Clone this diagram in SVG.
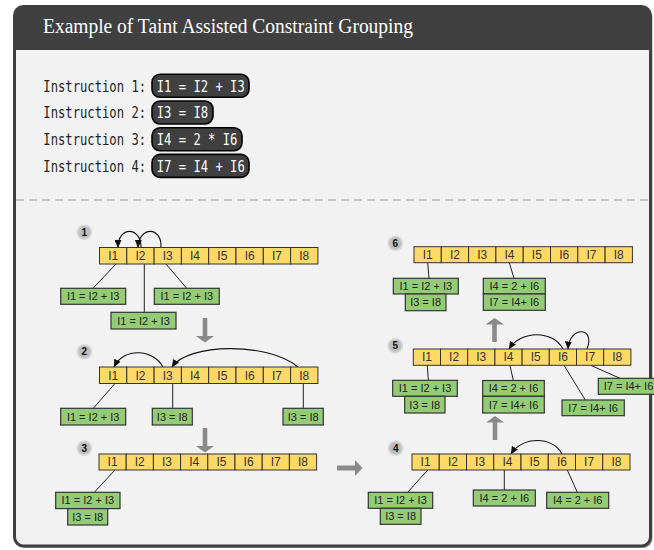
<svg xmlns="http://www.w3.org/2000/svg" width="654" height="550" viewBox="0 0 654 550">
<defs>
<marker id="ah" markerUnits="userSpaceOnUse" markerWidth="8" markerHeight="7" refX="7.5" refY="3.5" orient="auto"><path d="M0,0 L8,3.5 L0,7 z" fill="#111"/></marker>
<style>
.cell{fill:#ffd966;stroke:#333;stroke-width:1}
.ct{font-family:"Liberation Sans",Arial,sans-serif;font-size:12px;fill:#333;text-anchor:middle}
.g{fill:#93cc74;stroke:#333;stroke-width:1.2}
.gt{font-family:"Liberation Sans",Arial,sans-serif;font-size:11px;fill:#222;text-anchor:middle}
.ln{stroke:#222;stroke-width:1;fill:none}
.arc{stroke:#111;stroke-width:1.1;fill:none;marker-end:url(#ah)}
.mono{font-family:"DejaVu Sans Mono","Liberation Mono",monospace;font-size:15px}
.pill{fill:#404040;stroke:#000;stroke-width:1.6}
.bo{fill:#d6d6d6}
.bi{fill:#bdbdbd}
.bn{font-family:"Liberation Sans",Arial,sans-serif;font-size:10px;font-weight:bold;fill:#111;text-anchor:middle}
.big{fill:#8a8a8a}
</style>
</defs>
<g id="frame">
<rect x="16" y="8" width="636.5" height="540" rx="9" fill="#a0a0a0"/>
<rect x="14.5" y="6.5" width="636" height="539.5" rx="9" fill="#f2f2f2" stroke="#404040" stroke-width="3"/>
<path d="M14.5,50 V15.5 Q14.5,6.5 23.5,6.5 H641.5 Q650.5,6.5 650.5,15.5 V50 Z" fill="#404040"/>
<text x="43" y="33" font-family="Liberation Serif,Times New Roman,serif" font-size="20" fill="#fff" textLength="370" lengthAdjust="spacingAndGlyphs">Example of Taint Assisted Constraint Grouping</text>
<line x1="16" y1="200" x2="649" y2="200" stroke="#9a9a9a" stroke-width="1.2" stroke-dasharray="8,5"/>
</g>
<g id="instructions">
<text class="mono" fill="#222" transform="translate(43.3,91.5) scale(0.814,1)">Instruction 1:</text>
<text class="mono" fill="#222" transform="translate(43.3,118.2) scale(0.814,1)">Instruction 2:</text>
<text class="mono" fill="#222" transform="translate(43.3,144.9) scale(0.814,1)">Instruction 3:</text>
<text class="mono" fill="#222" transform="translate(43.3,171.6) scale(0.814,1)">Instruction 4:</text>
<rect class="pill" x="152" y="74.3" width="97" height="23" rx="8"/>
<text class="mono" fill="#fff" transform="translate(156.7,91.5) scale(0.814,1)">I1 = I2 + I3</text>
<rect class="pill" x="152" y="101" width="61" height="23" rx="8"/>
<text class="mono" fill="#fff" transform="translate(156.7,118.2) scale(0.814,1)">I3 = I8</text>
<rect class="pill" x="152" y="127.7" width="90" height="23" rx="8"/>
<text class="mono" fill="#fff" transform="translate(156.7,144.9) scale(0.814,1)">I4 = 2 * I6</text>
<rect class="pill" x="152" y="154.4" width="97" height="23" rx="8"/>
<text class="mono" fill="#fff" transform="translate(156.7,171.6) scale(0.814,1)">I7 = I4 + I6</text>
</g>
<g id="big-arrows">
<path class="big" d="M202.7,318 H207.3 V336 H214 L205,342.5 L196,336 H202.7 Z"/>
<path class="big" d="M202.7,428 H207.3 V446 H214 L205,452.5 L196,446 H202.7 Z"/>
<path class="big" d="M337,465.5 V470.5 H355 V476 L362.5,468 L355,460 V465.5 Z"/>
<path class="big" d="M492.7,440 H497.3 V422.5 H504 L495,416 L486,422.5 H492.7 Z"/>
<path class="big" d="M492.2,342 H496.8 V324.5 H504 L494.5,318 L485.5,324.5 H492.2 Z"/>
</g>
<g id="badges">
<circle class="bo" cx="84.3" cy="232.3" r="7.8"/><circle class="bi" cx="84.3" cy="232.3" r="6"/><text class="bn" x="84.3" y="235.8">1</text>
<circle class="bo" cx="84.3" cy="351.7" r="7.8"/><circle class="bi" cx="84.3" cy="351.7" r="6"/><text class="bn" x="84.3" y="355.2">2</text>
<circle class="bo" cx="84.3" cy="448.3" r="7.8"/><circle class="bi" cx="84.3" cy="448.3" r="6"/><text class="bn" x="84.3" y="451.8">3</text>
<circle class="bo" cx="395.7" cy="448.3" r="7.8"/><circle class="bi" cx="395.7" cy="448.3" r="6"/><text class="bn" x="395.7" y="451.8">4</text>
<circle class="bo" cx="395.3" cy="345.7" r="7.8"/><circle class="bi" cx="395.3" cy="345.7" r="6"/><text class="bn" x="395.3" y="349.2">5</text>
<circle class="bo" cx="395.3" cy="243.3" r="7.8"/><circle class="bi" cx="395.3" cy="243.3" r="6"/><text class="bn" x="395.3" y="246.8">6</text>
</g>
<g id="connectors">
<path class="arc" d="M141,247.5 C141,226 118,226 118,247.5"/>
<path class="arc" d="M161,247.5 C162,226 139,226 138,247.5"/>
<line class="ln" x1="116" y1="264" x2="93" y2="288.3"/>
<line class="ln" x1="144.3" y1="264" x2="144.3" y2="312.3"/>
<line class="ln" x1="166" y1="264" x2="186.7" y2="288.3"/>
<path class="arc" d="M163,367 C153,349 124,347 114,367"/>
<path class="arc" d="M298,367 C268,342 188,343 172,367"/>
<line class="ln" x1="115" y1="383.5" x2="93.3" y2="408.3"/>
<line class="ln" x1="172.7" y1="383.5" x2="172.7" y2="408.3"/>
<line class="ln" x1="303.3" y1="383.5" x2="303.3" y2="408.3"/>
<line class="ln" x1="115" y1="470" x2="94.3" y2="492.3"/>
<path class="arc" d="M562,454 C553,436 522,436 511,454"/>
<line class="ln" x1="427.7" y1="470" x2="407.7" y2="492.3"/>
<line class="ln" x1="504.3" y1="470" x2="504.3" y2="490"/>
<line class="ln" x1="567.3" y1="470" x2="577.3" y2="492.3"/>
<path class="arc" d="M563,349 C553,330 521,330 509,349"/>
<path class="arc" d="M587,349 C596,326 569,326 568,349"/>
<line class="ln" x1="427.3" y1="365.3" x2="428.3" y2="380.5"/>
<line class="ln" x1="510" y1="365.3" x2="513.3" y2="380.5"/>
<line class="ln" x1="564" y1="365.3" x2="585.3" y2="400"/>
<line class="ln" x1="590.7" y1="365.3" x2="620" y2="378.3"/>
<line class="ln" x1="427.7" y1="262.7" x2="429" y2="278.3"/>
<line class="ln" x1="509.3" y1="262.7" x2="514" y2="278.3"/>
</g>
<g id="step1">
<rect class="cell" x="99.5" y="247.5" width="27.3" height="16.5"/><rect class="cell" x="126.8" y="247.5" width="27.3" height="16.5"/><rect class="cell" x="154.1" y="247.5" width="27.3" height="16.5"/><rect class="cell" x="181.4" y="247.5" width="27.3" height="16.5"/><rect class="cell" x="208.7" y="247.5" width="27.3" height="16.5"/><rect class="cell" x="236" y="247.5" width="27.3" height="16.5"/><rect class="cell" x="263.3" y="247.5" width="27.3" height="16.5"/><rect class="cell" x="290.6" y="247.5" width="27.3" height="16.5"/>
<text class="ct" y="260"><tspan x="113.15">I1</tspan><tspan x="140.45">I2</tspan><tspan x="167.75">I3</tspan><tspan x="195.05">I4</tspan><tspan x="222.35">I5</tspan><tspan x="249.65">I6</tspan><tspan x="276.95">I7</tspan><tspan x="304.25">I8</tspan></text>
<rect class="g" x="60.7" y="288.3" width="65" height="16"/><text class="gt" x="93.2" y="300.2">I1 = I2 + I3</text>
<rect class="g" x="111" y="312.3" width="65" height="16.7"/><text class="gt" x="143.5" y="324.5">I1 = I2 + I3</text>
<rect class="g" x="154.3" y="288.3" width="65" height="16"/><text class="gt" x="186.8" y="300.2">I1 = I2 + I3</text>
</g>
<g id="step2">
<rect class="cell" x="99.5" y="367" width="27.3" height="16.5"/><rect class="cell" x="126.8" y="367" width="27.3" height="16.5"/><rect class="cell" x="154.1" y="367" width="27.3" height="16.5"/><rect class="cell" x="181.4" y="367" width="27.3" height="16.5"/><rect class="cell" x="208.7" y="367" width="27.3" height="16.5"/><rect class="cell" x="236" y="367" width="27.3" height="16.5"/><rect class="cell" x="263.3" y="367" width="27.3" height="16.5"/><rect class="cell" x="290.6" y="367" width="27.3" height="16.5"/>
<text class="ct" y="379.5"><tspan x="113.15">I1</tspan><tspan x="140.45">I2</tspan><tspan x="167.75">I3</tspan><tspan x="195.05">I4</tspan><tspan x="222.35">I5</tspan><tspan x="249.65">I6</tspan><tspan x="276.95">I7</tspan><tspan x="304.25">I8</tspan></text>
<rect class="g" x="60.7" y="408.3" width="65" height="16.7"/><text class="gt" x="93.2" y="420.5">I1 = I2 + I3</text>
<rect class="g" x="152.3" y="408.3" width="40" height="16.7"/><text class="gt" x="172.3" y="420.5">I3 = I8</text>
<rect class="g" x="283" y="408.3" width="40.3" height="16.7"/><text class="gt" x="303.2" y="420.5">I3 = I8</text>
</g>
<g id="step3">
<rect class="cell" x="99" y="454" width="27.2" height="16"/><rect class="cell" x="126.2" y="454" width="27.2" height="16"/><rect class="cell" x="153.4" y="454" width="27.2" height="16"/><rect class="cell" x="180.6" y="454" width="27.2" height="16"/><rect class="cell" x="207.8" y="454" width="27.2" height="16"/><rect class="cell" x="235" y="454" width="27.2" height="16"/><rect class="cell" x="262.2" y="454" width="27.2" height="16"/><rect class="cell" x="289.4" y="454" width="27.2" height="16"/>
<text class="ct" y="466.2"><tspan x="112.6">I1</tspan><tspan x="139.8">I2</tspan><tspan x="167">I3</tspan><tspan x="194.2">I4</tspan><tspan x="221.4">I5</tspan><tspan x="248.6">I6</tspan><tspan x="275.8">I7</tspan><tspan x="303">I8</tspan></text>
<rect class="g" x="55.7" y="492.3" width="64.3" height="16.3"/><text class="gt" x="87.8" y="504.4">I1 = I2 + I3</text>
<rect class="g" x="67.7" y="508.6" width="40" height="16.4"/><text class="gt" x="87.7" y="520.7">I3 = I8</text>
</g>
<g id="step4">
<rect class="cell" x="412" y="454" width="27.25" height="16"/><rect class="cell" x="439.25" y="454" width="27.25" height="16"/><rect class="cell" x="466.5" y="454" width="27.25" height="16"/><rect class="cell" x="493.75" y="454" width="27.25" height="16"/><rect class="cell" x="521" y="454" width="27.25" height="16"/><rect class="cell" x="548.25" y="454" width="27.25" height="16"/><rect class="cell" x="575.5" y="454" width="27.25" height="16"/><rect class="cell" x="602.75" y="454" width="27.25" height="16"/>
<text class="ct" y="466.2"><tspan x="425.6">I1</tspan><tspan x="452.9">I2</tspan><tspan x="480.1">I3</tspan><tspan x="507.4">I4</tspan><tspan x="534.6">I5</tspan><tspan x="561.9">I6</tspan><tspan x="589.1">I7</tspan><tspan x="616.4">I8</tspan></text>
<rect class="g" x="368.3" y="492.3" width="64.4" height="16"/><text class="gt" x="400.5" y="504.2">I1 = I2 + I3</text>
<rect class="g" x="380.3" y="508.3" width="40.7" height="16"/><text class="gt" x="400.6" y="520.2">I3 = I8</text>
<rect class="g" x="473.3" y="490" width="62" height="16"/><text class="gt" x="504.3" y="501.9">I4 = 2 + I6</text>
<rect class="g" x="546.7" y="492.3" width="62" height="16"/><text class="gt" x="577.7" y="504.2">I4 = 2 + I6</text>
</g>
<g id="step5">
<rect class="cell" x="413.3" y="349" width="27.2" height="16.3"/><rect class="cell" x="440.5" y="349" width="27.2" height="16.3"/><rect class="cell" x="467.7" y="349" width="27.2" height="16.3"/><rect class="cell" x="494.9" y="349" width="27.2" height="16.3"/><rect class="cell" x="522.1" y="349" width="27.2" height="16.3"/><rect class="cell" x="549.3" y="349" width="27.2" height="16.3"/><rect class="cell" x="576.5" y="349" width="27.2" height="16.3"/><rect class="cell" x="603.7" y="349" width="27.2" height="16.3"/>
<text class="ct" y="361.4"><tspan x="426.9">I1</tspan><tspan x="454.1">I2</tspan><tspan x="481.3">I3</tspan><tspan x="508.5">I4</tspan><tspan x="535.7">I5</tspan><tspan x="562.9">I6</tspan><tspan x="590.1">I7</tspan><tspan x="617.3">I8</tspan></text>
<rect class="g" x="392.7" y="380.3" width="64.6" height="16"/><text class="gt" x="425" y="392.2">I1 = I2 + I3</text>
<rect class="g" x="404.7" y="396.3" width="40.3" height="16.7"/><text class="gt" x="424.8" y="408.5">I3 = I8</text>
<rect class="g" x="482.7" y="380.5" width="61.6" height="15.8"/><text class="gt" x="513.5" y="392.3">I4 = 2 + I6</text>
<rect class="g" x="482.7" y="396.3" width="61.6" height="16.7"/><text class="gt" x="513.5" y="408.5">I7 = I4+ I6</text>
<rect class="g" x="562" y="400" width="62.3" height="15.7"/><text class="gt" x="593.1" y="411.7">I7 = I4+ I6</text>
<rect class="g" x="598.3" y="378.3" width="62" height="16"/><text class="gt" x="628.5" y="390.2">I7 = I4+ I6</text>
</g>
<g id="step6">
<rect class="cell" x="414" y="246.7" width="27.3" height="16"/><rect class="cell" x="441.3" y="246.7" width="27.3" height="16"/><rect class="cell" x="468.6" y="246.7" width="27.3" height="16"/><rect class="cell" x="495.9" y="246.7" width="27.3" height="16"/><rect class="cell" x="523.2" y="246.7" width="27.3" height="16"/><rect class="cell" x="550.5" y="246.7" width="27.3" height="16"/><rect class="cell" x="577.8" y="246.7" width="27.3" height="16"/><rect class="cell" x="605.1" y="246.7" width="27.3" height="16"/>
<text class="ct" y="258.9"><tspan x="427.65">I1</tspan><tspan x="454.95">I2</tspan><tspan x="482.25">I3</tspan><tspan x="509.55">I4</tspan><tspan x="536.85">I5</tspan><tspan x="564.15">I6</tspan><tspan x="591.45">I7</tspan><tspan x="618.75">I8</tspan></text>
<rect class="g" x="393.3" y="278.3" width="65" height="15.7"/><text class="gt" x="425.8" y="290.1">I1 = I2 + I3</text>
<rect class="g" x="405.3" y="294" width="40.7" height="16.7"/><text class="gt" x="425.6" y="306.2">I3 = I8</text>
<rect class="g" x="483.3" y="278.3" width="62" height="15.7"/><text class="gt" x="514.3" y="290.1">I4 = 2 + I6</text>
<rect class="g" x="483.3" y="294" width="62" height="16.3"/><text class="gt" x="514.3" y="306">I7 = I4+ I6</text>
</g>
</svg>
